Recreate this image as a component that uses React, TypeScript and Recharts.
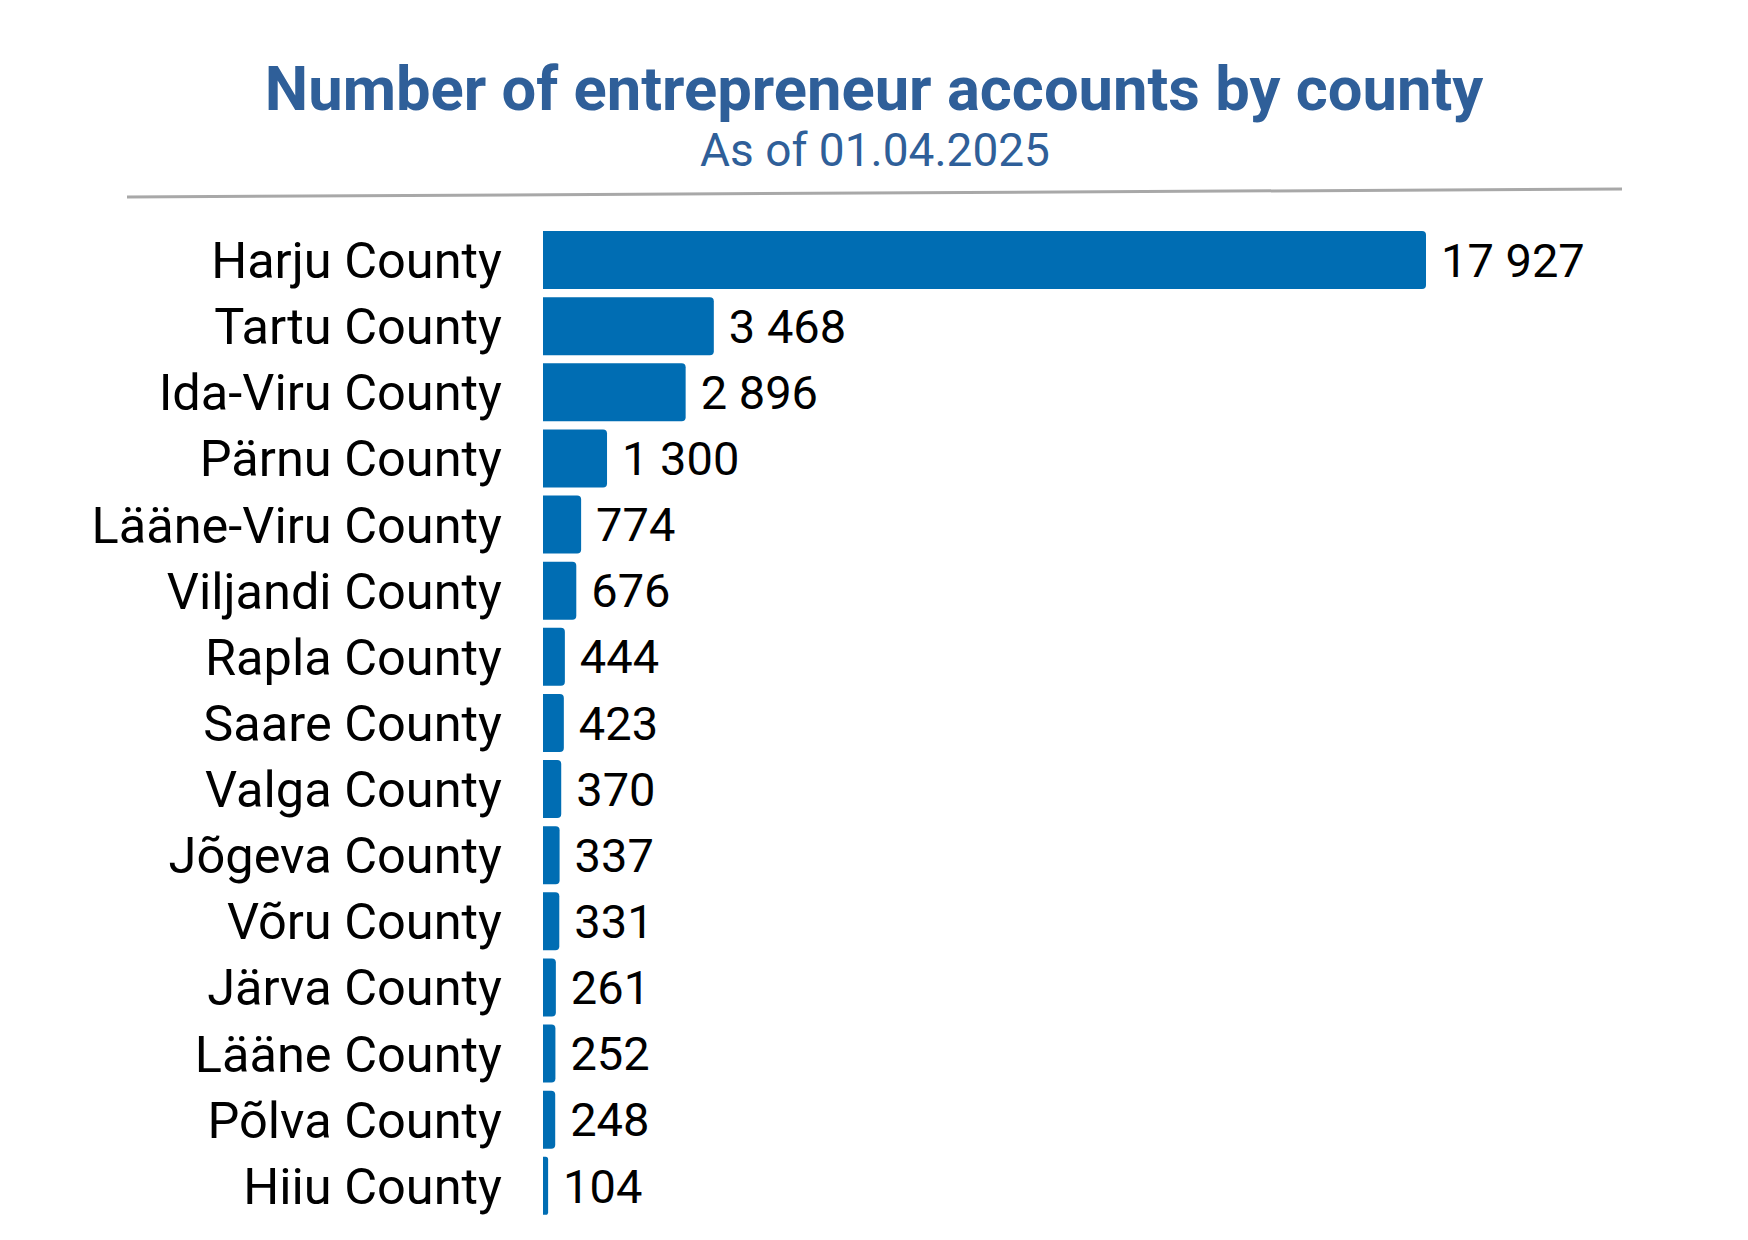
import { Bar, BarChart, LabelList, XAxis, YAxis } from "recharts";

const counties = [
  "Harju County",
  "Tartu County",
  "Ida-Viru County",
  "Pärnu County",
  "Lääne-Viru County",
  "Viljandi County",
  "Rapla County",
  "Saare County",
  "Valga County",
  "Jõgeva County",
  "Võru County",
  "Järva County",
  "Lääne County",
  "Põlva County",
  "Hiiu County",
];

const accounts = [17927, 3468, 2896, 1300, 774, 676, 444, 423, 370, 337, 331, 261, 252, 248, 104];

const data = counties.map((county, i) => ({ county, accounts: accounts[i] }));
const maxValue = Math.max(...accounts);

const FONT = "Roboto, 'Noto Sans', sans-serif";
const BAR_COLOR = "#006DB3";
const TITLE_COLOR = "#2F5F99";

const formatThousands = (v: number) => String(v).replace(/\B(?=(\d{3})+(?!\d))/g, " ");

export default function App() {
  return (
    <div style={{ position: "absolute", left: 0, top: 0, width: 1748, height: 1240, background: "#fff" }}>
      <svg width={1748} height={240} style={{ position: "absolute", left: 0, top: 0 }}>
        <text x={874} y={110} textAnchor="middle" fontFamily={FONT} fontWeight={700} fontSize={61.5} fill={TITLE_COLOR}>
          Number of entrepreneur accounts by county
        </text>
        <text x={875} y={166} textAnchor="middle" fontFamily={FONT} fontSize={46} fill={TITLE_COLOR}>
          As of 01.04.2025
        </text>
        <line x1={127} y1={197} x2={1622} y2={189} stroke="#a8a8a8" strokeWidth={3} />
      </svg>
      <div style={{ position: "absolute", left: 0, top: 0 }}>
        <BarChart
          width={1748}
          height={1240}
          data={data}
          layout="vertical"
          margin={{ top: 227, right: 322, bottom: 21, left: 0 }}
        >
          <XAxis type="number" domain={[0, maxValue]} hide />
          <YAxis
            type="category"
            dataKey="county"
            width={543}
            axisLine={false}
            tickLine={false}
            tickSize={0}
            tickMargin={41}
            interval={0}
            tick={{ fill: "#000", fontSize: 50.5, fontFamily: FONT }}
          />
          <Bar dataKey="accounts" fill={BAR_COLOR} barSize={58} radius={[0, 4, 4, 0]} isAnimationActive={false}>
            <LabelList
              dataKey="accounts"
              position="right"
              offset={15}
              formatter={(v: number) => formatThousands(v)}
              style={{ fill: "#000", fontSize: 47, fontFamily: FONT }}
            />
          </Bar>
        </BarChart>
      </div>
    </div>
  );
}
